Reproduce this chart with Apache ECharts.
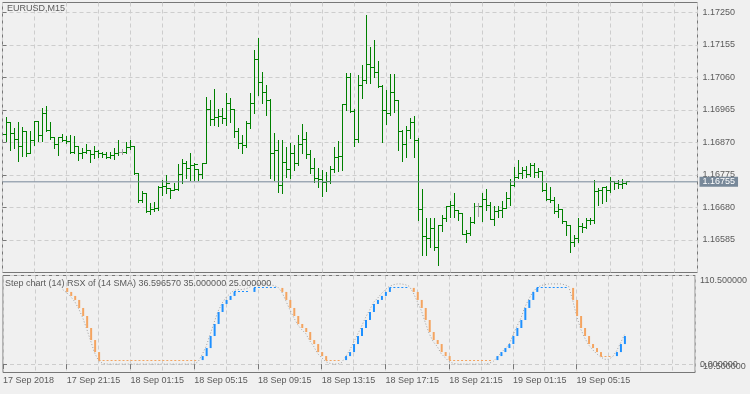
<!DOCTYPE html>
<html>
<head>
<meta charset="utf-8">
<title>EURUSD,M15</title>
<script src="https://cdn.jsdelivr.net/npm/echarts@6/dist/echarts.min.js"></script>
<style>
    html, body {margin: 0; padding: 0; background: #f0f0f0;}
    #chart {width: 750px; height: 394px;}
</style>
</head>
<body>
<div id="chart"></div>
<script>
    // bar j sits at axis position j + 1 (one slot = one M15 bar)
    var opens = [1.16894,1.16929,1.16897,1.16880,1.16858,1.16902,1.16839,1.16875,1.16931,1.16889,
        1.16955,1.16905,1.16885,1.16865,1.16885,1.16877,1.16873,1.16841,1.16858,1.16839,
        1.16841,1.16848,1.16834,1.16843,1.16839,1.16834,1.16827,1.16832,1.16839,1.16842,
        1.16842,1.16856,1.16859,1.16778,1.16699,1.16720,1.16668,1.16673,1.16676,1.16739,
        1.16741,1.16735,1.16731,1.16733,1.16777,1.16809,1.16795,1.16803,1.16790,1.16775,
        1.16809,1.16965,1.16938,1.16943,1.16945,1.16940,1.16984,1.16967,1.16901,1.16867,
        1.16860,1.16926,1.16984,1.17113,1.17046,1.17016,1.16994,1.16838,1.16846,1.16743,
        1.16811,1.16790,1.16838,1.16809,1.16865,1.16879,1.16836,1.16794,1.16765,1.16762,
        1.16753,1.16756,1.16791,1.16826,1.16830,1.16980,1.17061,1.16962,1.16879,1.17038,
        1.17050,1.17098,1.17089,1.17074,1.17035,1.16963,1.16955,1.17016,1.16994,1.16903,
        1.16865,1.16906,1.16929,1.16875,1.16673,1.16595,1.16590,1.16619,1.16564,1.16626,
        1.16648,1.16682,1.16685,1.16670,1.16661,1.16602,1.16605,1.16637,1.16684,1.16684,
        1.16702,1.16685,1.16646,1.16668,1.16670,1.16678,1.16705,1.16743,1.16768,1.16780,
        1.16788,1.16775,1.16804,1.16783,1.16785,1.16731,1.16704,1.16699,1.16668,1.16674,
        1.16639,1.16627,1.16578,1.16590,1.16624,1.16622,1.16643,1.16641,1.16726,1.16731,
        1.16737,1.16731,1.16756,1.16751,1.16746,1.16751];
    var highs = [1.16944,1.16931,1.16912,1.16931,1.16914,1.16902,1.16905,1.16933,1.16931,1.16970,
        1.16977,1.16931,1.16885,1.16887,1.16894,1.16890,1.16892,1.16889,1.16858,1.16855,
        1.16866,1.16848,1.16861,1.16848,1.16843,1.16841,1.16843,1.16855,1.16877,1.16850,
        1.16871,1.16877,1.16859,1.16780,1.16728,1.16720,1.16692,1.16695,1.16744,1.16759,
        1.16775,1.16736,1.16751,1.16807,1.16822,1.16817,1.16839,1.16809,1.16790,1.16809,
        1.17003,1.16995,1.17026,1.16968,1.16970,1.17016,1.17001,1.16968,1.16911,1.16892,
        1.16933,1.17015,1.17140,1.17176,1.17077,1.17038,1.16996,1.16897,1.16877,1.16877,
        1.16858,1.16869,1.16863,1.16892,1.16924,1.16902,1.16848,1.16826,1.16794,1.16791,
        1.16783,1.16801,1.16858,1.16874,1.16983,1.17074,1.17072,1.16967,1.17067,1.17096,
        1.17243,1.17150,1.17170,1.17109,1.17038,1.17022,1.17070,1.17070,1.16994,1.16906,
        1.16918,1.16943,1.16947,1.16884,1.16733,1.16648,1.16650,1.16650,1.16626,1.16658,
        1.16682,1.16700,1.16721,1.16673,1.16663,1.16614,1.16653,1.16692,1.16694,1.16721,
        1.16734,1.16697,1.16684,1.16684,1.16700,1.16724,1.16762,1.16797,1.16819,1.16797,
        1.16801,1.16809,1.16809,1.16794,1.16786,1.16751,1.16741,1.16712,1.16689,1.16677,
        1.16639,1.16629,1.16600,1.16648,1.16634,1.16648,1.16648,1.16760,1.16736,1.16738,
        1.16744,1.16770,1.16756,1.16760,1.16762,1.16757];
    var lows = [1.16873,1.16848,1.16853,1.16817,1.16831,1.16831,1.16839,1.16863,1.16873,1.16873,
        1.16905,1.16880,1.16853,1.16834,1.16873,1.16868,1.16839,1.16840,1.16819,1.16824,
        1.16840,1.16812,1.16824,1.16829,1.16829,1.16824,1.16824,1.16822,1.16834,1.16836,
        1.16840,1.16851,1.16778,1.16697,1.16697,1.16666,1.16661,1.16671,1.16673,1.16717,
        1.16722,1.16707,1.16731,1.16731,1.16751,1.16765,1.16761,1.16761,1.16759,1.16765,
        1.16809,1.16921,1.16921,1.16919,1.16926,1.16921,1.16931,1.16887,1.16855,1.16840,
        1.16858,1.16911,1.16957,1.17009,1.16985,1.16950,1.16767,1.16760,1.16726,1.16721,
        1.16770,1.16767,1.16791,1.16805,1.16838,1.16826,1.16782,1.16755,1.16739,1.16714,
        1.16729,1.16751,1.16785,1.16788,1.16790,1.16965,1.16960,1.16861,1.16870,1.16999,
        1.17045,1.17045,1.17062,1.17031,1.16872,1.16925,1.16950,1.16960,1.16848,1.16817,
        1.16829,1.16884,1.16829,1.16644,1.16541,1.16541,1.16564,1.16556,1.16512,1.16612,
        1.16641,1.16653,1.16651,1.16642,1.16602,1.16580,1.16600,1.16635,1.16655,1.16641,
        1.16673,1.16645,1.16629,1.16653,1.16651,1.16678,1.16687,1.16743,1.16765,1.16765,
        1.16770,1.16772,1.16770,1.16768,1.16729,1.16702,1.16697,1.16665,1.16653,1.16634,
        1.16600,1.16549,1.16566,1.16580,1.16609,1.16620,1.16632,1.16634,1.16687,1.16692,
        1.16699,1.16726,1.16733,1.16736,1.16736,1.16748];
    var closes = [1.16929,1.16897,1.16880,1.16858,1.16902,1.16839,1.16875,1.16931,1.16889,1.16955,
        1.16905,1.16885,1.16865,1.16885,1.16877,1.16873,1.16841,1.16858,1.16839,1.16841,
        1.16848,1.16834,1.16843,1.16839,1.16834,1.16827,1.16832,1.16839,1.16842,1.16842,
        1.16856,1.16859,1.16778,1.16699,1.16720,1.16668,1.16673,1.16676,1.16739,1.16741,
        1.16749,1.16731,1.16733,1.16777,1.16809,1.16795,1.16803,1.16807,1.16775,1.16809,
        1.16965,1.16938,1.16943,1.16945,1.16940,1.16984,1.16967,1.16901,1.16867,1.16860,
        1.16926,1.16984,1.17113,1.17046,1.17016,1.16994,1.16838,1.16846,1.16743,1.16811,
        1.16790,1.16838,1.16809,1.16865,1.16879,1.16836,1.16794,1.16765,1.16762,1.16753,
        1.16756,1.16791,1.16826,1.16830,1.16980,1.17061,1.16962,1.16879,1.17038,1.17050,
        1.17098,1.17089,1.17074,1.17035,1.16963,1.16955,1.17016,1.16994,1.16903,1.16865,
        1.16906,1.16929,1.16875,1.16673,1.16595,1.16590,1.16619,1.16564,1.16626,1.16648,
        1.16682,1.16685,1.16670,1.16661,1.16602,1.16605,1.16637,1.16684,1.16684,1.16702,
        1.16685,1.16646,1.16668,1.16670,1.16678,1.16705,1.16743,1.16768,1.16780,1.16788,
        1.16775,1.16804,1.16783,1.16785,1.16731,1.16704,1.16699,1.16668,1.16674,1.16639,
        1.16627,1.16578,1.16590,1.16624,1.16622,1.16643,1.16641,1.16726,1.16731,1.16737,
        1.16731,1.16756,1.16751,1.16746,1.16751,1.16755];

    // RSX indicator, starts at bar 14
    var firstRsxBar = 14;
    var rsxValues = [93,89,84,78,69,58,44,29,14,4,
        1,0,0,0,0,0,0,0,0,0,0,0,0,0,0,0,0,0,0,0,0,0,0,0,3,
        12,22,37,52,66,76,83,88,92,
        93,93,94,96,99,100,100,100,99,98,96,
        90,79,68,58,49,43,38,29,22,13,8,3,
        1,0,0,2,
        9,17,27,37,47,58,67,77,82,88,93,97,
        99,100,100,99,97,
        89,78,67,52,38,28,22,13,8,3,
        1,0,0,0,0,0,0,0,0,1,3,
        8,14,19,24,36,47,57,71,81,90,95,
        98,99,100,100,100,100,99,97,
        80,60,44,33,24,18,13,9,
        6,6,9,
        16,26,36.59657];
    var stepValues = [95,90,85,80,70,60,45,30,15,5,
        5,5,5,5,5,5,5,5,5,5,5,5,5,5,5,5,5,5,5,5,5,5,5,5,5,
        10,20,35,50,65,75,80,85,90,
        90,90,90,90,95,95,95,95,95,95,95,
        90,80,70,60,50,45,40,30,25,15,10,5,
        5,5,5,5,
        10,15,25,35,45,55,65,75,80,85,90,95,
        95,95,95,95,95,
        90,80,70,55,40,30,25,15,10,5,
        5,5,5,5,5,5,5,5,5,5,5,
        10,15,20,25,35,45,55,70,80,90,95,
        95,95,95,95,95,95,95,95,
        80,60,45,35,25,20,15,10,
        10,10,10,
        15,25,35];

    var priceTicks = [1.16585, 1.16680, 1.16775, 1.16870, 1.16965, 1.17060, 1.17155, 1.17250];
    var timeLabels = ['17 Sep 2018', '17 Sep 21:15', '18 Sep 01:15', '18 Sep 05:15', '18 Sep 09:15',
        '18 Sep 13:15', '18 Sep 17:15', '18 Sep 21:15', '19 Sep 01:15', '19 Sep 05:15'];
    var lastPrice = 1.16755;
    var rsxTicks = [110.5, 0];
    var rsxMin = -10.5;
    var rsxMax = 110.5;

    var font = 'Liberation Sans';
    var textColor = '#5a5a5a';
    var frameColor = '#777777';
    var gridLine = {show: true, lineStyle: {color: '#cdcdcd', type: [4, 3], width: 1}};

    function crisp(v) {
        return Math.round(v - 0.5) + 0.5;
    }

    // OHLC bar: vertical high-low, open tick on the left, close tick on the right
    function renderBar(params, api) {
        var t = api.value(0);
        var o = api.value(1), c = api.value(4);
        var hi = api.coord([t, api.value(2)]);
        var lo = api.coord([t, api.value(3)]);
        var po = api.coord([t, o]);
        var pc = api.coord([t, c]);
        var x = hi[0];
        var style = {stroke: o === c ? '#a0a0a0' : '#008000', lineWidth: 1};
        return {
            type: 'group',
            children: [
                {type: 'line', shape: {x1: x, y1: Math.round(hi[1]), x2: x, y2: Math.round(lo[1]) + 1}, style: style},
                {type: 'line', shape: {x1: x - 3.5, y1: crisp(po[1]), x2: x + 0.5, y2: crisp(po[1])}, style: style},
                {type: 'line', shape: {x1: x - 0.5, y1: crisp(pc[1]), x2: x + 3.5, y2: crisp(pc[1])}, style: style}
            ]
        };
    }

    // step chart: thick riser when the step changes, dotted run while it stays
    function renderStep(params, api) {
        var t = api.value(0), prev = api.value(1), cur = api.value(2);
        var color = api.value(3) > 0 ? '#1e90ff' : '#f4a460';
        var p1 = api.coord([t, prev]);
        var p2 = api.coord([t, cur]);
        if (prev !== cur) {
            return {
                type: 'rect',
                shape: {x: p1[0] - 0.5, y: Math.min(p1[1], p2[1]), width: 2, height: Math.abs(p2[1] - p1[1])},
                style: {fill: color}
            };
        }
        var p0 = api.coord([t - 1, cur]);
        return {
            type: 'line',
            shape: {x1: p0[0], y1: crisp(p2[1]), x2: p2[0], y2: crisp(p2[1])},
            style: {stroke: color, lineWidth: 1, lineDash: [2, 2]}
        };
    }

    function rsxLabel(v) {
        if (v > 100) return '{top|' + v.toFixed(6) + '}';
        if (v < 0) return '{bot|' + v.toFixed(6) + '}';
        return v.toFixed(6);
    }

    function initChart() {
        var barData = [];
        for (var i = 0; i < closes.length; i++) {
            barData.push([i + 1, opens[i], highs[i], lows[i], closes[i]]);
        }

        var rsxData = [];
        var stepData = [];
        var trend = -1;
        for (var k = 0; k < rsxValues.length; k++) {
            var t = firstRsxBar + 1 + k;
            rsxData.push([t, rsxValues[k]]);
            if (k > 0) {
                if (stepValues[k] > stepValues[k - 1]) trend = 1;
                if (stepValues[k] < stepValues[k - 1]) trend = -1;
                stepData.push([t, stepValues[k - 1], stepValues[k], trend]);
            }
        }

        var labelPos = [];
        for (var m = 0; m < timeLabels.length; m++) {
            labelPos.push(m * 16);
        }

        var rsxRich = {
            top: {padding: [11, 0, 0, 0], fontSize: 9, color: textColor, fontFamily: font},
            bot: {padding: [0, 0, 11, 0], fontSize: 9, color: textColor, fontFamily: font}
        };

        var option = {
            animation: false,
            backgroundColor: '#f0f0f0',
            textStyle: {fontFamily: font},
            title: [
                {
                    text: 'EURUSD,M15', left: 7, top: 4, padding: 0,
                    textStyle: {fontSize: 9, fontWeight: 'normal', color: textColor, fontFamily: font}
                },
                {
                    text: 'Step chart (14) RSX of (14 SMA) 36.596570 35.000000 25.000000', left: 5, top: 279, padding: 0,
                    textStyle: {fontSize: 9, fontWeight: 'normal', color: textColor, fontFamily: font}
                }
            ],
            grid: [
                {left: 2.5, top: 2.5, right: 52.5, height: 270, show: true, borderColor: frameColor, borderWidth: 1, backgroundColor: 'transparent'},
                {left: 2.5, top: 275.5, right: 52.5, height: 97, show: true, borderColor: frameColor, borderWidth: 1, backgroundColor: 'transparent'}
            ],
            xAxis: [
                {
                    gridIndex: 0, type: 'value', min: 0, max: 173.75, interval: 8,
                    axisLine: {show: false}, axisTick: {show: false}, axisLabel: {show: false},
                    splitLine: gridLine
                },
                {
                    gridIndex: 1, type: 'value', min: 0, max: 173.75, interval: 8,
                    axisLine: {show: false}, axisTick: {show: false}, axisLabel: {show: false},
                    splitLine: gridLine
                },
                {
                    gridIndex: 1, type: 'value', position: 'bottom', min: 0, max: 173.75,
                    axisLine: {show: false},
                    axisTick: {show: true, length: 5, customValues: labelPos, lineStyle: {color: frameColor}},
                    axisLabel: {
                        customValues: labelPos, align: 'left', margin: 4, hideOverlap: false,
                        color: textColor, fontSize: 9, fontFamily: font,
                        formatter: function (v) {
                            return timeLabels[Math.round(v / 16)] || '';
                        }
                    },
                    splitLine: {show: false}
                }
            ],
            yAxis: [
                {
                    gridIndex: 0, type: 'value', position: 'right', min: 1.1649, max: 1.172792,
                    axisLine: {show: false},
                    axisTick: {show: true, length: 4, customValues: priceTicks, lineStyle: {color: frameColor}},
                    axisLabel: {
                        customValues: priceTicks, margin: 5, color: textColor, fontSize: 9, fontFamily: font,
                        formatter: function (v) {
                            return v.toFixed(5);
                        }
                    },
                    splitLine: gridLine
                },
                {
                    gridIndex: 1, type: 'value', position: 'right', min: rsxMin, max: rsxMax,
                    axisLine: {show: false},
                    axisTick: {show: true, length: 4, customValues: rsxTicks, lineStyle: {color: frameColor}},
                    axisLabel: {
                        customValues: rsxTicks, margin: 5, hideOverlap: false,
                        color: textColor, fontSize: 9, fontFamily: font,
                        formatter: rsxLabel, rich: rsxRich
                    },
                    splitLine: gridLine
                },
                {
                    // bottom value of the indicator window, drawn on its own so it may overlap "0"
                    gridIndex: 1, type: 'value', position: 'right', min: rsxMin, max: rsxMax,
                    axisLine: {show: false},
                    axisTick: {show: false},
                    axisLabel: {
                        customValues: [rsxMin], margin: 5, hideOverlap: false,
                        color: textColor, fontSize: 9, fontFamily: font,
                        formatter: rsxLabel, rich: rsxRich
                    },
                    splitLine: {show: false}
                }
            ],
            series: [
                {
                    name: 'EURUSD', type: 'custom', xAxisIndex: 0, yAxisIndex: 0,
                    renderItem: renderBar,
                    encode: {x: 0, y: [1, 2, 3, 4]},
                    data: barData,
                    z: 3
                },
                {
                    // current bid line with its price box on the scale
                    name: 'Bid', type: 'line', xAxisIndex: 0, yAxisIndex: 0,
                    data: [[0, lastPrice], [173.75, lastPrice]],
                    symbol: 'none', silent: true,
                    lineStyle: {color: '#778899', width: 1},
                    endLabel: {
                        show: true, distance: 2,
                        formatter: lastPrice.toFixed(5),
                        color: '#ffffff', backgroundColor: '#778899',
                        padding: [1, 3, 0, 3], lineHeight: 9, fontSize: 9, fontFamily: font
                    },
                    z: 4
                },
                {
                    name: 'RSX', type: 'line', xAxisIndex: 1, yAxisIndex: 1,
                    data: rsxData, symbol: 'none', showSymbol: false,
                    lineStyle: {color: '#a0a0a0', width: 1, type: [1, 2]},
                    z: 2
                },
                {
                    name: 'Step', type: 'custom', xAxisIndex: 1, yAxisIndex: 1,
                    renderItem: renderStep,
                    encode: {x: 0, y: [1, 2]},
                    data: stepData,
                    z: 3
                }
            ]
        };

        var myChart = echarts.init(document.getElementById('chart'));
        myChart.setOption(option);
    }

    initChart();
</script>
</body>
</html>
